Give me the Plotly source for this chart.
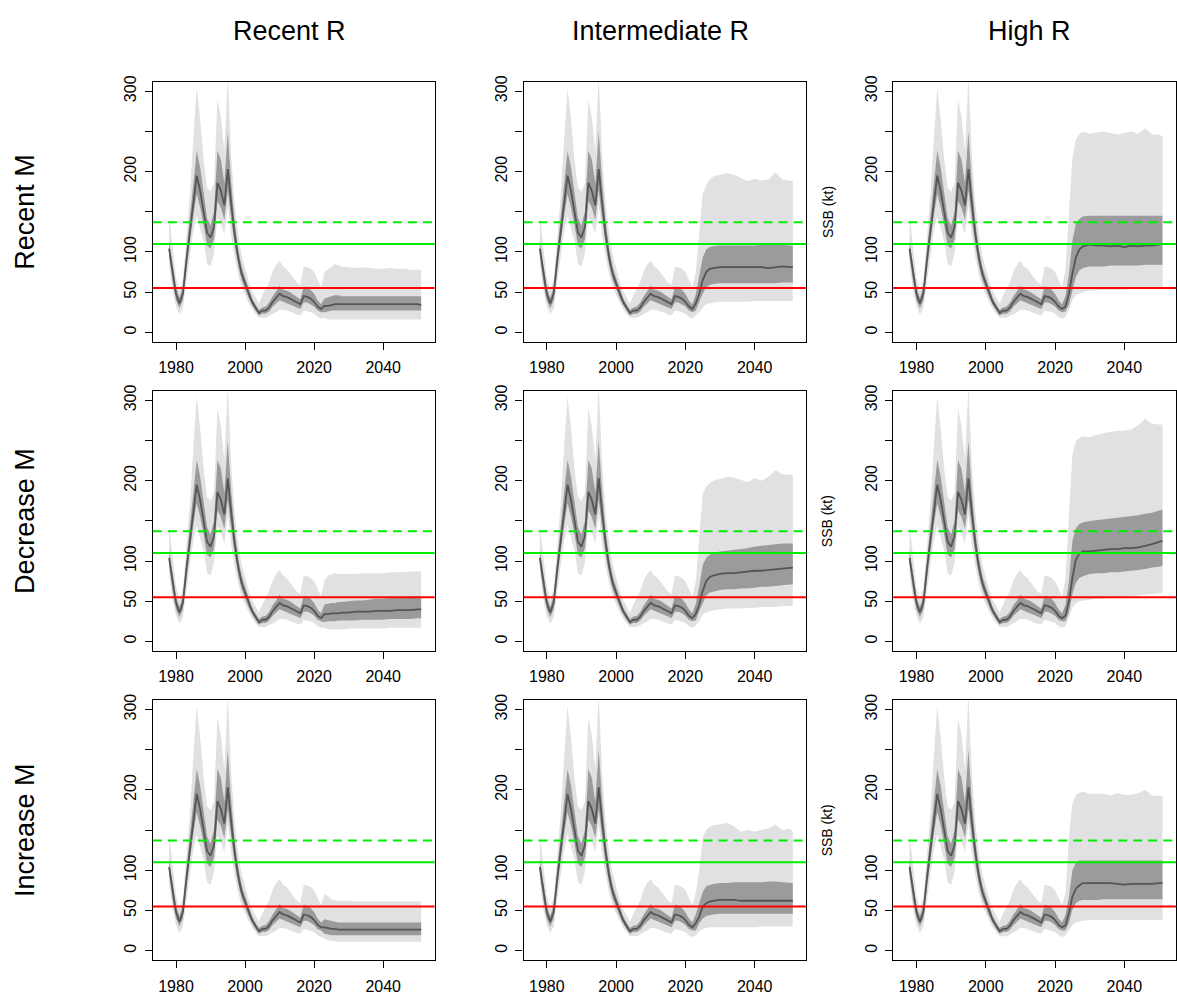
import plotly.graph_objects as go

# ---------------------------------------------------------------------------
# Historical SSB (kt), shared by every scenario
# ---------------------------------------------------------------------------
HIST_YEARS = list(range(1978, 2023))
HIST_MED = [104, 73, 48, 36, 48, 89, 127, 164, 195, 176, 151, 124, 118, 131, 186,
            176, 158, 203, 160, 122, 93, 73, 61, 48, 38, 31, 24, 27, 27, 31,
            38, 43, 48, 45, 44, 42, 40, 37, 35, 45, 44, 42, 38, 32, 29]
HIST_IN_LO = [95, 63, 40, 30, 40, 78, 112, 145, 172, 155, 133, 108, 104, 116, 163,
              155, 140, 176, 140, 108, 83, 65, 54, 43, 34, 27, 21, 23, 23, 26,
              32, 36, 40, 38, 37, 35, 33, 31, 29, 37, 37, 35, 32, 27, 25]
HIST_IN_HI = [114, 83, 56, 43, 57, 101, 143, 190, 226, 205, 175, 142, 133, 150, 226,
              215, 185, 250, 185, 137, 104, 82, 68, 54, 43, 35, 28, 31, 32, 37,
              45, 51, 58, 53, 52, 50, 47, 44, 41, 57, 56, 53, 48, 40, 35]
HIST_OUT_LO = [85, 52, 32, 22, 30, 64, 95, 125, 145, 130, 113, 85, 82, 98, 143,
               135, 122, 158, 120, 93, 72, 56, 46, 37, 29, 23, 18, 18, 18, 20,
               23, 25, 28, 28, 27, 26, 24, 22, 21, 27, 26, 25, 23, 19, 17]
HIST_OUT_HI = [145, 102, 68, 53, 66, 117, 170, 240, 305, 265, 215, 180, 175, 185, 290,
               268, 225, 318, 218, 160, 122, 96, 80, 64, 52, 44, 36, 46, 54, 63,
               76, 84, 89, 82, 79, 73, 67, 62, 59, 82, 81, 79, 75, 65, 56]

# ---------------------------------------------------------------------------
# Projected SSB (kt) per scenario: median, 50% band, 90% band
# ---------------------------------------------------------------------------
PROJ_YEARS = [2023, 2024, 2025, 2026, 2027, 2028, 2030, 2032, 2034,
              2036, 2038, 2040, 2042, 2044, 2046, 2048, 2050, 2051]

# Recent M
recM_recR_med = [33, 33, 34, 35, 35, 35, 35, 35, 35, 35, 35, 35, 35, 35, 35, 35, 35, 34]
recM_recR_in_lo = [25, 26, 27, 27, 27, 27, 27, 27, 27, 27, 27, 27, 27, 27, 27, 27, 27, 27]
recM_recR_in_hi = [42, 44, 45, 46, 46, 45, 45, 45, 45, 45, 45, 45, 45, 45, 45, 45, 45, 45]
recM_recR_out_lo = [18, 16, 16, 16, 16, 16, 16, 16, 16, 16, 16, 16, 16, 16, 16, 16, 16, 16]
recM_recR_out_hi = [75, 78, 81, 85, 83, 82, 81, 80, 81, 80, 79, 79, 80, 79, 79, 78, 78, 78]

recM_intR_med = [36, 48, 65, 75, 79, 80, 81, 81, 81, 81, 81, 81, 81, 80, 81, 82, 81, 81]
recM_intR_in_lo = [27, 38, 48, 56, 59, 60, 61, 61, 61, 61, 61, 61, 61, 61, 61, 62, 62, 62]
recM_intR_in_hi = [47, 68, 93, 103, 106, 107, 108, 108, 108, 108, 108, 108, 109, 109, 109, 109, 108, 108]
recM_intR_out_lo = [21, 25, 31, 35, 36, 37, 38, 38, 38, 38, 38, 39, 39, 39, 39, 39, 39, 39]
recM_intR_out_hi = [75, 128, 172, 183, 190, 194, 196, 198, 196, 192, 188, 191, 189, 190, 199, 190, 189, 188]

recM_highR_med = [32, 48, 73, 93, 103, 107, 109, 108, 108, 107, 108, 106, 108, 107, 108, 108, 109, 110]
recM_highR_in_lo = [26, 34, 52, 69, 77, 80, 82, 82, 82, 83, 83, 83, 83, 83, 84, 84, 84, 84]
recM_highR_in_hi = [45, 73, 114, 135, 141, 144, 145, 145, 145, 145, 145, 145, 145, 145, 145, 145, 145, 145]
recM_highR_out_lo = [19, 28, 40, 46, 48, 50, 52, 52, 53, 53, 53, 53, 54, 54, 54, 54, 54, 54]
recM_highR_out_hi = [78, 147, 217, 240, 246, 250, 247, 249, 250, 248, 246, 248, 250, 247, 254, 246, 246, 244]

# Decrease M
decM_recR_med = [34, 34, 35, 35, 35, 36, 36, 37, 37, 37, 38, 38, 38, 39, 39, 39, 40, 40]
decM_recR_in_lo = [24, 25, 25, 25, 26, 26, 26, 26, 27, 27, 27, 27, 28, 28, 28, 28, 29, 29]
decM_recR_in_hi = [46, 47, 48, 48, 49, 49, 50, 51, 51, 52, 53, 53, 54, 55, 55, 56, 56, 56]
decM_recR_out_lo = [17, 15, 15, 15, 15, 15, 16, 16, 16, 16, 16, 16, 17, 17, 17, 17, 17, 17]
decM_recR_out_hi = [76, 82, 83, 85, 84, 84, 84, 84, 85, 85, 85, 85, 86, 86, 86, 87, 87, 87]

decM_intR_med = [34, 46, 63, 75, 80, 82, 84, 85, 85, 86, 87, 88, 88, 89, 90, 91, 92, 92]
decM_intR_in_lo = [26, 38, 48, 57, 61, 62, 64, 65, 65, 66, 66, 67, 68, 68, 69, 70, 71, 71]
decM_intR_in_hi = [47, 68, 95, 104, 108, 110, 112, 113, 114, 115, 116, 118, 119, 120, 121, 122, 122, 122]
decM_intR_out_lo = [20, 25, 34, 36, 38, 39, 40, 41, 41, 41, 42, 42, 43, 43, 43, 44, 44, 44]
decM_intR_out_hi = [75, 130, 183, 193, 197, 200, 202, 205, 204, 201, 198, 203, 200, 205, 213, 208, 207, 207]

decM_highR_med = [32, 50, 79, 102, 109, 112, 112, 113, 114, 115, 115, 116, 116, 117, 119, 121, 124, 125]
decM_highR_in_lo = [25, 36, 59, 73, 79, 81, 84, 85, 85, 86, 86, 87, 88, 89, 90, 92, 93, 94]
decM_highR_in_hi = [45, 75, 125, 141, 146, 148, 150, 151, 152, 153, 154, 155, 156, 157, 159, 160, 163, 164]
decM_highR_out_lo = [19, 30, 42, 48, 50, 51, 52, 53, 53, 54, 54, 55, 56, 57, 58, 59, 60, 60]
decM_highR_out_hi = [78, 158, 232, 249, 253, 255, 254, 257, 259, 261, 262, 262, 264, 269, 277, 271, 270, 270]

# Increase M
incM_recR_med = [29, 28, 27, 27, 26, 26, 26, 26, 26, 26, 26, 26, 26, 26, 26, 26, 26, 26]
incM_recR_in_lo = [21, 20, 19, 19, 19, 19, 19, 19, 19, 19, 19, 19, 19, 19, 19, 19, 19, 19]
incM_recR_in_hi = [39, 38, 37, 36, 35, 35, 35, 35, 35, 35, 35, 35, 35, 35, 35, 35, 35, 35]
incM_recR_out_lo = [15, 13, 12, 12, 11, 11, 11, 11, 11, 11, 11, 11, 11, 11, 11, 11, 11, 11]
incM_recR_out_hi = [70, 68, 64, 63, 62, 62, 62, 61, 61, 61, 61, 61, 61, 61, 61, 61, 61, 61]

incM_intR_med = [34, 42, 55, 59, 61, 62, 63, 63, 63, 62, 62, 62, 62, 62, 62, 62, 62, 62]
incM_intR_in_lo = [25, 34, 40, 43, 44, 45, 46, 46, 46, 46, 46, 46, 46, 46, 46, 46, 46, 46]
incM_intR_in_hi = [45, 59, 73, 80, 82, 83, 84, 84, 85, 85, 85, 85, 85, 86, 86, 85, 84, 84]
incM_intR_out_lo = [19, 24, 27, 28, 29, 29, 29, 29, 29, 29, 29, 29, 30, 30, 30, 30, 30, 30]
incM_intR_out_hi = [72, 100, 141, 150, 154, 156, 157, 159, 155, 148, 150, 148, 150, 152, 157, 150, 152, 148]

incM_highR_med = [31, 47, 67, 77, 81, 84, 84, 84, 84, 84, 83, 82, 83, 83, 83, 83, 84, 84]
incM_highR_in_lo = [25, 34, 51, 59, 62, 63, 63, 63, 64, 64, 64, 64, 64, 64, 64, 64, 64, 64]
incM_highR_in_hi = [44, 67, 100, 109, 112, 112, 112, 112, 112, 112, 112, 112, 112, 112, 112, 112, 112, 112]
incM_highR_out_lo = [19, 26, 32, 35, 36, 37, 38, 38, 38, 38, 38, 38, 38, 38, 38, 38, 38, 38]
incM_highR_out_hi = [72, 141, 183, 193, 196, 198, 195, 195, 195, 193, 196, 194, 194, 196, 200, 193, 192, 192]

# Reference points (kt)
LIMIT_LEVEL = 55
PA_LEVEL = 110
TRIGGER_LEVEL = 137

R_LABELS = ["Recent R", "Intermediate R", "High R"]
M_LABELS = ["Recent M", "Decrease M", "Increase M"]

X_TICKS = [1980, 2000, 2020, 2040]
Y_TICKS = [0, 50, 100, 150, 200, 250, 300]
Y_TICK_TEXT = ["0", "50", "100", "", "200", "", "300"]

SCENARIOS = [
    [
        (recM_recR_med, recM_recR_in_lo, recM_recR_in_hi, recM_recR_out_lo, recM_recR_out_hi),
        (recM_intR_med, recM_intR_in_lo, recM_intR_in_hi, recM_intR_out_lo, recM_intR_out_hi),
        (recM_highR_med, recM_highR_in_lo, recM_highR_in_hi, recM_highR_out_lo, recM_highR_out_hi),
    ],
    [
        (decM_recR_med, decM_recR_in_lo, decM_recR_in_hi, decM_recR_out_lo, decM_recR_out_hi),
        (decM_intR_med, decM_intR_in_lo, decM_intR_in_hi, decM_intR_out_lo, decM_intR_out_hi),
        (decM_highR_med, decM_highR_in_lo, decM_highR_in_hi, decM_highR_out_lo, decM_highR_out_hi),
    ],
    [
        (incM_recR_med, incM_recR_in_lo, incM_recR_in_hi, incM_recR_out_lo, incM_recR_out_hi),
        (incM_intR_med, incM_intR_in_lo, incM_intR_in_hi, incM_intR_out_lo, incM_intR_out_hi),
        (incM_highR_med, incM_highR_in_lo, incM_highR_in_hi, incM_highR_out_lo, incM_highR_out_hi),
    ],
]

# ---------------------------------------------------------------------------
# Page geometry (pixels)
# ---------------------------------------------------------------------------
W, H = 1177, 1002
COL_X = [(153, 435), (524, 807), (894, 1177)]
ROW_Y = [(76, 338), (387, 649), (698, 960)]

FONT = "Arial, 'Liberation Sans', sans-serif"
LIGHT = "#e1e1e1"
DARK = "#9b9b9b"
MEDIAN = "#555555"

fig = go.Figure()
layout = {}
shapes = []
annotations = []

years = HIST_YEARS + PROJ_YEARS


def band(x, lo, hi):
    return x + x[::-1], hi + lo[::-1]


for i in range(3):
    for j in range(3):
        k = i * 3 + j + 1
        xa = "x" if k == 1 else f"x{k}"
        ya = "y" if k == 1 else f"y{k}"
        med, in_lo, in_hi, out_lo, out_hi = SCENARIOS[i][j]

        full_med = HIST_MED + med
        full_in_lo = HIST_IN_LO + in_lo
        full_in_hi = HIST_IN_HI + in_hi
        full_out_lo = HIST_OUT_LO + out_lo
        full_out_hi = HIST_OUT_HI + out_hi

        bx, by = band(years, full_out_lo, full_out_hi)
        fig.add_trace(go.Scatter(x=bx, y=by, fill="toself", fillcolor=LIGHT,
                                 line=dict(width=0), mode="lines",
                                 hoverinfo="skip", showlegend=False,
                                 xaxis=xa, yaxis=ya))
        bx, by = band(years, full_in_lo, full_in_hi)
        fig.add_trace(go.Scatter(x=bx, y=by, fill="toself", fillcolor=DARK,
                                 line=dict(width=0), mode="lines",
                                 hoverinfo="skip", showlegend=False,
                                 xaxis=xa, yaxis=ya))
        fig.add_trace(go.Scatter(x=years, y=full_med, mode="lines",
                                 line=dict(color=MEDIAN, width=1.8),
                                 showlegend=False, xaxis=xa, yaxis=ya))

        x0, x1 = COL_X[j]
        y0, y1 = ROW_Y[i]
        xkey = "xaxis" if k == 1 else f"xaxis{k}"
        ykey = "yaxis" if k == 1 else f"yaxis{k}"
        layout[xkey] = dict(
            domain=[x0 / W, x1 / W], anchor=ya, range=[1973.3, 2054.9],
            tickvals=X_TICKS, ticks="outside", ticklen=7, tickwidth=1,
            tickcolor="black", showgrid=False, zeroline=False,
            showline=True, mirror=True, linecolor="black", linewidth=1.3,
            tickfont=dict(family=FONT, size=16, color="black"),
            ticklabelstandoff=4,
        )
        layout[ykey] = dict(
            domain=[1 - y1 / H, 1 - y0 / H], anchor=xa, range=[-12, 312],
            tickvals=Y_TICKS, ticktext=Y_TICK_TEXT, ticks="outside",
            ticklen=7, tickwidth=1, tickcolor="black", tickangle=-90,
            showgrid=False, zeroline=False, showline=True, mirror=True,
            linecolor="black", linewidth=1.3,
            tickfont=dict(family=FONT, size=16, color="black"),
            ticklabelstandoff=2,
        )

        for level, color, dash in ((LIMIT_LEVEL, "#ff0000", "solid"),
                                   (PA_LEVEL, "#00ee00", "solid"),
                                   (TRIGGER_LEVEL, "#00ee00", "9px,6px")):
            shapes.append(dict(type="line", xref=f"{xa} domain", yref=ya,
                               x0=0, x1=1, y0=level, y1=level, layer="above",
                               line=dict(color=color, width=2, dash=dash)))

        if j == 2:
            annotations.append(dict(text="SSB (kt)", xref="paper", yref="paper",
                                    x=828 / W, y=1 - (y0 + y1) / 2 / H,
                                    xanchor="center", yanchor="middle",
                                    textangle=-90, showarrow=False,
                                    font=dict(family=FONT, size=14, color="black")))

for j, label in enumerate(R_LABELS):
    x0, x1 = COL_X[j]
    annotations.append(dict(text=label, xref="paper", yref="paper",
                            x=(x0 + x1) / 2 / W - 0.004, y=1 - 25 / H,
                            xanchor="center", yanchor="middle",
                            showarrow=False,
                            font=dict(family=FONT, size=27, color="black")))

for i, label in enumerate(M_LABELS):
    y0, y1 = ROW_Y[i]
    annotations.append(dict(text=label, xref="paper", yref="paper",
                            x=25 / W, y=1 - (y0 + y1) / 2 / H, textangle=-90,
                            xanchor="center", yanchor="middle",
                            showarrow=False,
                            font=dict(family=FONT, size=27, color="black")))

fig.update_layout(
    width=W, height=H, margin=dict(l=0, r=0, t=0, b=0),
    paper_bgcolor="white", plot_bgcolor="white",
    shapes=shapes, annotations=annotations, showlegend=False,
    **layout,
)

fig.write_html("out.html")
